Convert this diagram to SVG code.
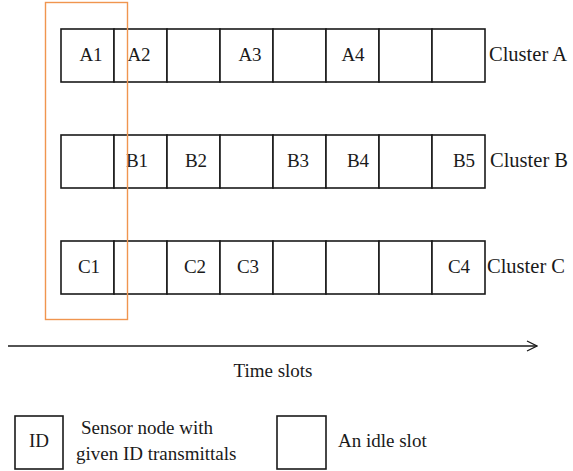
<svg xmlns="http://www.w3.org/2000/svg" width="573" height="471" viewBox="0 0 573 471">
<style>
.s{fill:#fff;stroke:#1a1a1a;stroke-width:1.6}
.t{font-family:"Liberation Serif",serif;font-size:19px;fill:#1a1a1a}
.c{font-size:20.5px}
.m{text-anchor:middle}
.hl{fill:none;stroke:#f0954f;stroke-width:1.4}
</style>
<defs>
<marker id="ah" viewBox="0 0 12 12" refX="11" refY="6" markerWidth="12" markerHeight="12" markerUnits="userSpaceOnUse" orient="auto">
<path d="M1,1 L11,6 L1,11" fill="none" stroke="#1a1a1a" stroke-width="1.3"/>
</marker>
</defs>
<rect width="573" height="471" fill="#fff"/>
<g id="rowA">
<g id="a1"><rect class="s" x="61" y="29" width="53" height="53"/><text class="t m" x="91" y="61">A1</text></g>
<g id="a2"><rect class="s" x="114" y="29" width="53" height="53"/><text class="t m" x="139" y="61">A2</text></g>
<g id="a3"><rect class="s" x="167" y="29" width="53" height="53"/></g>
<g id="a4"><rect class="s" x="220" y="29" width="53" height="53"/><text class="t m" x="250" y="61">A3</text></g>
<g id="a5"><rect class="s" x="273" y="29" width="53" height="53"/></g>
<g id="a6"><rect class="s" x="326" y="29" width="53" height="53"/><text class="t m" x="353" y="61">A4</text></g>
<g id="a7"><rect class="s" x="379" y="29" width="53" height="53"/></g>
<g id="a8"><rect class="s" x="432" y="29" width="53" height="53"/></g>
<g id="labelA"><text class="t c" x="489" y="61">Cluster A</text></g>
</g>
<g id="rowB">
<g id="b1"><rect class="s" x="61" y="135" width="53" height="53"/></g>
<g id="b2"><rect class="s" x="114" y="135" width="53" height="53"/><text class="t m" x="137" y="167">B1</text></g>
<g id="b3"><rect class="s" x="167" y="135" width="53" height="53"/><text class="t m" x="196" y="167">B2</text></g>
<g id="b4"><rect class="s" x="220" y="135" width="53" height="53"/></g>
<g id="b5"><rect class="s" x="273" y="135" width="53" height="53"/><text class="t m" x="298" y="167">B3</text></g>
<g id="b6"><rect class="s" x="326" y="135" width="53" height="53"/><text class="t m" x="358" y="167">B4</text></g>
<g id="b7"><rect class="s" x="379" y="135" width="53" height="53"/></g>
<g id="b8"><rect class="s" x="432" y="135" width="53" height="53"/><text class="t m" x="464" y="167">B5</text></g>
<g id="labelB"><text class="t c" x="490" y="167">Cluster B</text></g>
</g>
<g id="rowC">
<g id="c1"><rect class="s" x="61" y="241" width="53" height="53"/><text class="t m" x="89" y="273">C1</text></g>
<g id="c2"><rect class="s" x="114" y="241" width="53" height="53"/></g>
<g id="c3"><rect class="s" x="167" y="241" width="53" height="53"/><text class="t m" x="195" y="273">C2</text></g>
<g id="c4"><rect class="s" x="220" y="241" width="53" height="53"/><text class="t m" x="248" y="273">C3</text></g>
<g id="c5"><rect class="s" x="273" y="241" width="53" height="53"/></g>
<g id="c6"><rect class="s" x="326" y="241" width="53" height="53"/></g>
<g id="c7"><rect class="s" x="379" y="241" width="53" height="53"/></g>
<g id="c8"><rect class="s" x="432" y="241" width="53" height="53"/><text class="t m" x="459" y="273">C4</text></g>
<g id="labelC"><text class="t c" x="487" y="273">Cluster C</text></g>
</g>
<g id="highlight"><rect class="hl" x="45.5" y="2.5" width="82" height="317"/></g>
<g id="connectors">
<line x1="8" y1="346" x2="537" y2="346" stroke="#1a1a1a" stroke-width="1.4" marker-end="url(#ah)"/>
</g>
<g id="axisLabel"><text class="t m" x="273" y="377">Time slots</text></g>
<g id="legendID">
<rect class="s" x="15" y="416" width="48" height="53"/>
<text class="t m" x="39" y="447">ID</text>
<text class="t" x="81" y="434">Sensor node with</text>
<text class="t" x="76" y="460">given ID transmittals</text>
</g>
<g id="legendIdle">
<rect class="s" x="277" y="416" width="49" height="53"/>
<text class="t" x="338" y="447">An idle slot</text>
</g>
</svg>
